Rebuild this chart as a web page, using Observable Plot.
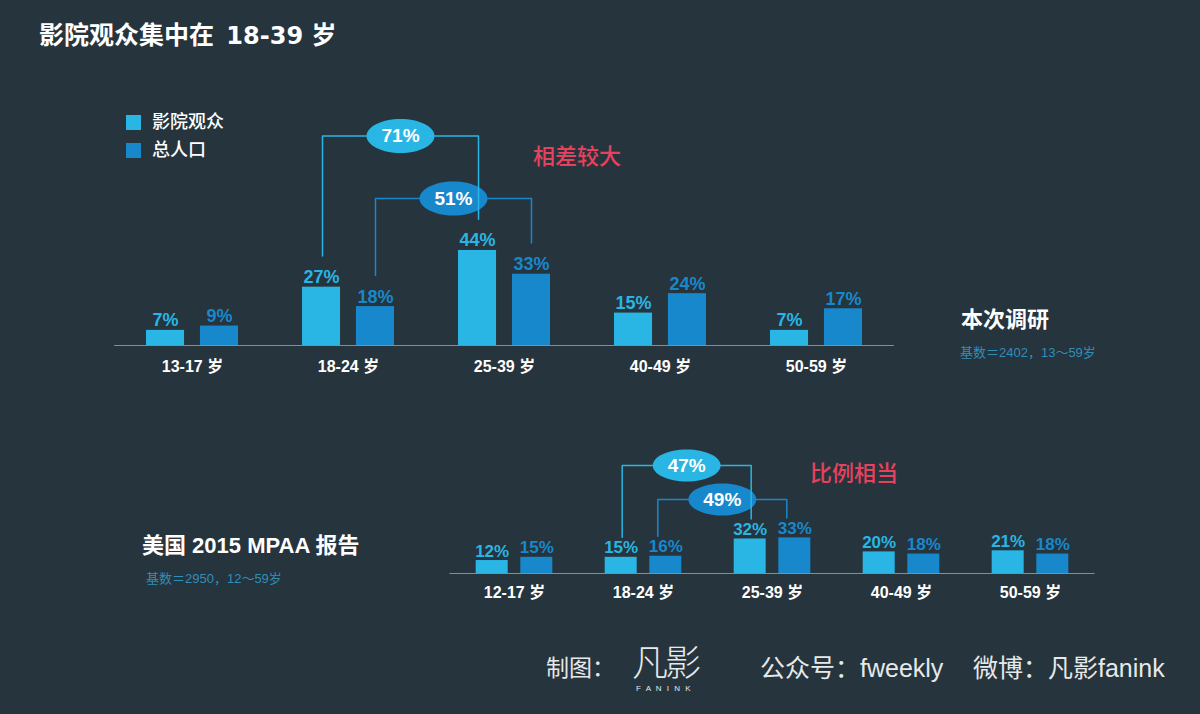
<!DOCTYPE html>
<html>
<head>
<meta charset="utf-8">
<script src="https://cdn.jsdelivr.net/npm/d3@7"></script>
<script src="https://cdn.jsdelivr.net/npm/@observablehq/plot@0.6"></script>
<style>
  html, body { margin: 0; padding: 0; }
  body { width: 1200px; height: 714px; background: #26343d; overflow: hidden;
         font-family: "Liberation Sans", Arial, "Noto Sans CJK SC", sans-serif; }
  #root { position: relative; width: 1200px; height: 714px; }
  .abs { position: absolute; white-space: nowrap; }
  .plot { position: absolute; left: 0; }
</style>
</head>
<body>
<div id="root"></div>
<script>
// ---------- data ----------
const seriesNames = ["影院观众", "总人口"];
const seriesColors = ["#29b6e4", "#1888cc"];

const surveyCategories = ["13-17 岁", "18-24 岁", "25-39 岁", "40-49 岁", "50-59 岁"];
const surveyAudience = [7, 27, 44, 15, 7];
const surveyPopulation = [9, 18, 33, 24, 17];

const mpaaCategories = ["12-17 岁", "18-24 岁", "25-39 岁", "40-49 岁", "50-59 岁"];
const mpaaAudience = [12, 15, 32, 20, 21];
const mpaaPopulation = [15, 16, 33, 18, 18];

// brackets: series index, the two categories summed (inner first, outer last)
const surveyBrackets = [{s: 1, from: 1, to: 2}, {s: 0, from: 1, to: 2}];
const mpaaBrackets = [{s: 1, from: 1, to: 2}, {s: 0, from: 1, to: 2}];

const titleParts = ["影院观众集中在", "18-39", "岁"];
const surveyTitle = "本次调研";
const surveyNote = "基数＝2402，13～59岁";
const mpaaTitle = "美国 2015 MPAA 报告";
const mpaaNote = "基数＝2950，12～59岁";
const surveyRemark = "相差较大";
const mpaaRemark = "比例相当";

// ---------- helpers ----------
const root = document.getElementById("root");
function addText(txt, css) {
  const d = document.createElement("div");
  d.className = "abs";
  d.textContent = txt;
  Object.assign(d.style, css);
  root.appendChild(d);
  return d;
}

function ellipseSymbol(aspect) {
  return {
    draw(ctx, size) {
      const ry = Math.sqrt(size / Math.PI), rx = ry * aspect, k = 0.5523;
      ctx.moveTo(rx, 0);
      ctx.bezierCurveTo(rx, k * ry, k * rx, ry, 0, ry);
      ctx.bezierCurveTo(-k * rx, ry, -rx, k * ry, -rx, 0);
      ctx.bezierCurveTo(-rx, -k * ry, -k * rx, -ry, 0, -ry);
      ctx.bezierCurveTo(k * rx, -ry, rx, -k * ry, rx, 0);
      ctx.closePath();
    }
  };
}

const OFF = [-0.173, 0.173];

function chart(cats, a, b, brackets, cfg) {
  const vals = [a, b];
  const rows = [];
  cats.forEach((c, i) => vals.forEach((arr, s) => rows.push({i, s, series: seriesNames[s], v: arr[i]})));
  const marks = [
    Plot.rect(rows, {
      x1: d => d.i + OFF[d.s] - cfg.bw / 2,
      x2: d => d.i + OFF[d.s] + cfg.bw / 2,
      y1: () => 0, y2: "v", fill: "series"
    }),
    Plot.ruleY([0], {stroke: "#7f8f98", strokeWidth: 1}),
    Plot.text(rows, {
      x: d => d.i + OFF[d.s], y: "v", text: d => d.v + "%", fill: "series",
      lineAnchor: "bottom", dy: -4, fontSize: cfg.labelSize, fontWeight: "bold"
    }),
    Plot.text(cats.map((c, i) => ({c, i})), {
      x: "i", y: () => 0, text: "c", dy: cfg.catDy, fill: "#ffffff",
      fontSize: 16, fontWeight: "bold"
    })
  ];
  brackets.forEach((br, j) => {
    const arr = vals[br.s];
    const level = cfg.levels[j];
    const shift = cfg.bracketDx[j];
    const x0 = br.from + OFF[br.s], x1 = br.to + OFF[br.s];
    const pts = [
      {x: x0, y: arr[br.from] + cfg.gap},
      {x: x0, y: level},
      {x: x1, y: level},
      {x: x1, y: arr[br.to] + cfg.gap}
    ];
    const mid = [{x: (x0 + x1) / 2, y: level, t: (arr[br.from] + arr[br.to]) + "%"}];
    marks.push(
      Plot.line(pts, {x: "x", y: "y", dx: shift, stroke: seriesColors[br.s], strokeWidth: 1.5}),
      Plot.dot(mid, {x: "x", y: "y", dx: shift, r: cfg.er, symbol: ellipseSymbol(cfg.aspect), fill: seriesColors[br.s], stroke: "none"}),
      Plot.text(mid, {x: "x", y: "y", dx: shift, text: "t", fill: "#ffffff", fontSize: 19, fontWeight: "bold"})
    );
  });
  const svg = Plot.plot({
    width: 1200,
    height: cfg.height,
    marginLeft: cfg.ml, marginRight: cfg.mr,
    marginTop: cfg.mt, marginBottom: cfg.mb,
    x: {type: "linear", domain: [-0.5, 4.5], axis: null},
    y: {domain: [0, 100], axis: null},
    color: {domain: seriesNames, range: seriesColors},
    style: {background: "transparent", overflow: "visible",
            fontFamily: '"Liberation Sans", Arial, "Noto Sans CJK SC", sans-serif'},
    marks
  });
  svg.classList.add("plot");
  svg.style.top = cfg.top + "px";
  root.appendChild(svg);
}

// top chart: baseline at y=345, 100 units = 216px
chart(surveyCategories, surveyAudience, surveyPopulation, surveyBrackets, {
  top: 0, height: 400, mt: 129, mb: 55, ml: 114, mr: 306,
  bw: 0.244, labelSize: 18, catDy: 21, gap: 14.4, levels: [68, 97],
  bracketDx: [0, 1], er: 17, aspect: 2
});
// bottom chart: baseline at y=573, 100 units = 108px
chart(mpaaCategories, mpaaAudience, mpaaPopulation, mpaaBrackets, {
  top: 400, height: 314, mt: 65, mb: 141, ml: 449.5, mr: 105.5,
  bw: 0.248, labelSize: 17, catDy: 19, gap: 18.5, levels: [68.5, 100],
  bracketDx: [-8, 1], er: 16, aspect: 2.12
});

// ---------- texts ----------
const t = addText("", {left: "39px", top: "19px", fontSize: "25px", fontWeight: "bold", color: "#ffffff", lineHeight: "32px"});
t.innerHTML = "";
const sp1 = document.createElement("span"); sp1.textContent = titleParts[0];
const sp2 = document.createElement("span"); sp2.textContent = " " + titleParts[1] + " ";
Object.assign(sp2.style, {fontFamily: '"DejaVu Sans", sans-serif', fontSize: "24px", marginLeft: "4px"});
const sp3 = document.createElement("span"); sp3.textContent = titleParts[2];
t.append(sp1, sp2, sp3);

seriesNames.forEach((n, s) => {
  const sq = document.createElement("div");
  sq.className = "abs";
  Object.assign(sq.style, {left: "126px", top: (115 + s * 28) + "px", width: "15px", height: "15px", background: seriesColors[s]});
  root.appendChild(sq);
  addText(n, {left: "152px", top: (110 + s * 28) + "px", fontSize: "18px", color: "#ffffff", lineHeight: "24px", fontWeight: "500"});
});

addText(surveyRemark, {left: "533px", top: "143px", fontSize: "22px", color: "#e8415e", lineHeight: "28px", fontWeight: "500"});
addText(mpaaRemark, {left: "810px", top: "460px", fontSize: "22px", color: "#e8415e", lineHeight: "28px", fontWeight: "500"});

addText(surveyTitle, {left: "961px", top: "306px", fontSize: "22px", color: "#ffffff", lineHeight: "28px", fontWeight: "bold"});
addText(surveyNote, {left: "960px", top: "345px", fontSize: "13px", color: "#2f8fba", lineHeight: "16px"});
addText(mpaaTitle, {left: "142px", top: "532px", fontSize: "22px", color: "#ffffff", lineHeight: "28px", fontWeight: "bold"});
addText(mpaaNote, {left: "146px", top: "571px", fontSize: "13px", color: "#2f8fba", lineHeight: "16px"});

// footer
addText("制图：", {left: "546px", top: "653px", fontSize: "23px", color: "#e6e9ea", lineHeight: "30px"});
addText("凡影", {left: "632px", top: "644px", fontSize: "36px", color: "#e6e9ea", lineHeight: "40px", fontWeight: "300", letterSpacing: "-3px"});
addText("F A N I N K", {left: "636px", top: "684px", fontSize: "8px", color: "#e6e9ea", lineHeight: "10px", letterSpacing: "1.5px"});
addText("公众号：fweekly", {left: "760px", top: "653px", fontSize: "25px", color: "#e6e9ea", lineHeight: "30px"});
addText("微博：凡影fanink", {left: "973px", top: "653px", fontSize: "25px", color: "#e6e9ea", lineHeight: "30px"});
</script>
</body>
</html>
